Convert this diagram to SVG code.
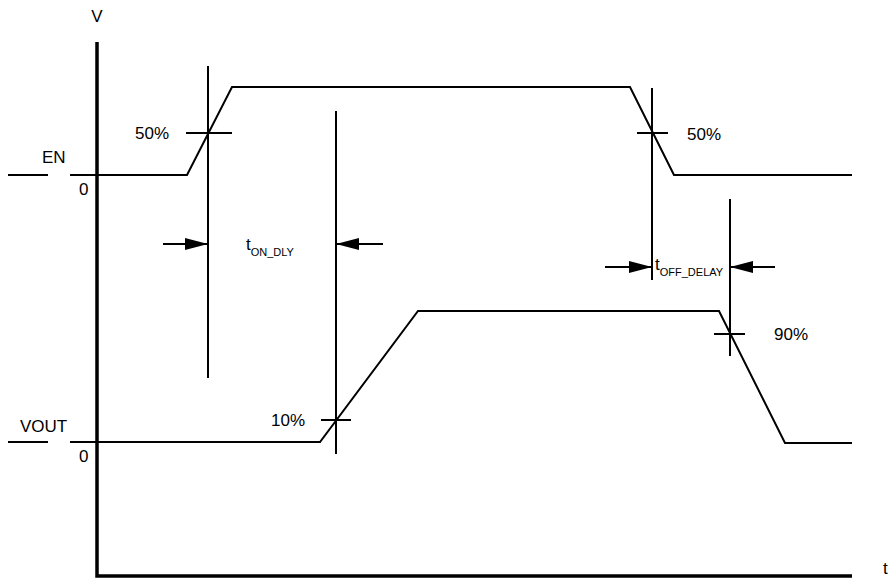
<svg xmlns="http://www.w3.org/2000/svg" width="893" height="579" viewBox="0 0 893 579">
<defs>
<style>
.ln{fill:none;stroke:#000;stroke-width:2}
.ax{fill:none;stroke:#000;stroke-width:3.5}
.tx{font-family:"Liberation Sans",Arial,sans-serif;font-size:17px;fill:#000}
.sb{font-size:11px}
</style>
<marker id="ah" viewBox="0 0 10 10" refX="10" refY="5" markerWidth="23" markerHeight="12" markerUnits="userSpaceOnUse" orient="auto" preserveAspectRatio="none">
<path d="M0,0 L10,5 L0,10 Z" fill="#000"/>
</marker>
</defs>
<rect width="893" height="579" fill="#fff"/>
<g id="axes">
<path class="ax" d="M97,42 V576 H852"/>
<text class="tx" x="97" y="22" text-anchor="middle">V</text>
<text class="tx" x="883" y="574">t</text>
</g>
<g id="en-signal">
<path class="ln" d="M8,175 H48 M70,175 H187 L232,87 H630 L674,175 H852"/>
<text class="tx" x="42" y="163">EN</text>
<text class="tx" x="79" y="195">0</text>
</g>
<g id="vout-signal">
<path class="ln" d="M8,442 H48 M70,442 H320 L418,311 H719 L785,443 H852"/>
<text class="tx" x="20" y="432">VOUT</text>
<text class="tx" x="79" y="462">0</text>
</g>
<g id="markers">
<path class="ln" d="M208,66 V378 M186,133 H232"/>
<text class="tx" x="135" y="139">50%</text>
<path class="ln" d="M336,111 V454 M321,420 H351"/>
<text class="tx" x="271" y="426">10%</text>
<path class="ln" d="M652,88 V280 M637,133 H668"/>
<text class="tx" x="687" y="140">50%</text>
<path class="ln" d="M730,199 V356 M714,334 H745"/>
<text class="tx" x="774" y="340">90%</text>
</g>
<g id="connectors">
<path class="ln" d="M163,244 H208" marker-end="url(#ah)"/>
<path class="ln" d="M383,244 H336" marker-end="url(#ah)"/>
<path class="ln" d="M605,267 H652" marker-end="url(#ah)"/>
<path class="ln" d="M775,267 H730" marker-end="url(#ah)"/>
</g>
<g id="labels">
<text class="tx" x="246" y="250">t<tspan class="sb" dy="6">ON_DLY</tspan></text>
<text class="tx" x="655" y="270">t<tspan class="sb" dy="6">OFF_DELAY</tspan></text>
</g>
</svg>
